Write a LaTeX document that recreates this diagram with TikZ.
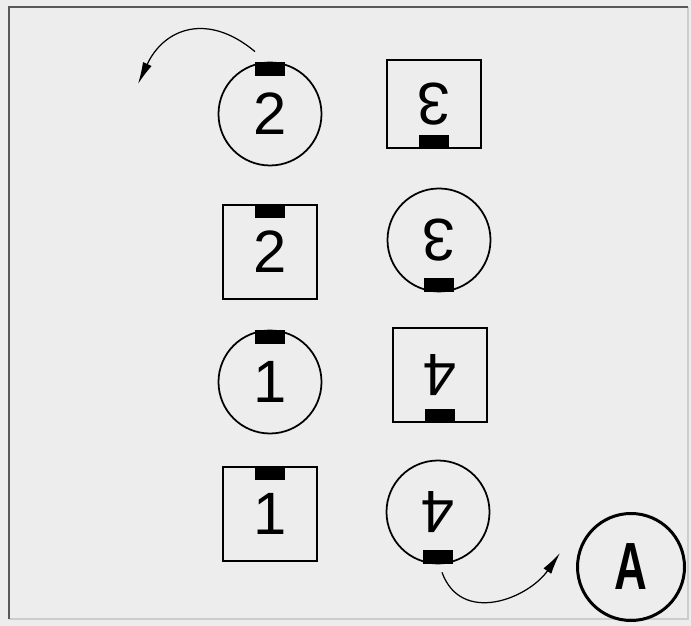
\documentclass[tikz,border=0pt]{standalone}
\usepackage{graphicx}
\usepackage{fontspec}
\setsansfont{Liberation Sans}
\usetikzlibrary{arrows.meta, calc}

\begin{document}
\begin{tikzpicture}[x=0.2mm, y=0.2mm, line width=1pt,
    disc/.style={draw, circle, inner sep=0pt, minimum size=20.6mm,
      font=\sffamily\fontsize{34}{34}\selectfont},
    tile/.style={draw, rectangle, inner sep=0pt, minimum size=18.8mm,
      font=\sffamily\fontsize{34}{34}\selectfont},
    turn/.style={-{Latex[length=4.4mm, width=1.9mm]}, line width=0.7pt}]
  % Paper and frame
  \useasboundingbox (0,0) rectangle (691,626);
  \fill[black!7] (0,0) rectangle (691,626);
  \draw[black!20] (9,7) -- (688,7) -- (688,619);
  \draw[black!65] (9,7) -- (9,619) -- (688,619);

  % Left column
  \node[disc] (c2) at (270,512) {2};
  \node[tile] (s2) at (270,374) {2};
  \node[disc] (c1) at (270,244) {1};
  \node[tile] (s1) at (270,112) {1};

  % Right column (turned over)
  \node[tile, minimum height=17.6mm] (s3) at (434,522) {\rotatebox{180}{3}};
  \node[disc] (c3) at (439,386) {\rotatebox{180}{3}};
  \node[tile] (s4) at (440,251) {\rotatebox{180}{4}};
  \node[disc] (c4) at (438,114) {\rotatebox{180}{4}};

  % Result
  \node[draw, circle, line width=1.7pt, inner sep=0pt, minimum size=21.4mm,
    font=\sffamily\bfseries\fontsize{38}{38}\selectfont] (cA) at (631,59)
    {\scalebox{0.68}[1]{A}};

  % Black marks
  \foreach \n in {c2,s2,c1,s1}
    \fill ($(\n.north)+(-15,-14)$) rectangle ++(30,14);
  \foreach \n in {s3,c3,s4,c4}
    \fill ($(\n.south)+(-15,0)$) rectangle ++(30,14);

  % Turning arrows
  \coordinate (backleft) at (138,542);
  \coordinate (toA) at (560,73);
  \draw[turn] ([shift={(-15,10)}]c2.north) to[out=140, in=65, looseness=1.3] (backleft);
  \draw[turn] ([shift={(4,-8)}]c4.south) to[out=-70, in=235, looseness=1.2] (toA);
\end{tikzpicture}
\end{document}
